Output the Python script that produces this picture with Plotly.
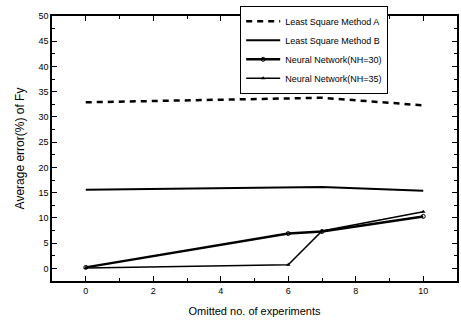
import plotly.graph_objects as go

omitted = [0, 6, 7, 10]
lsm_a = [32.9, 33.6, 33.8, 32.3]
lsm_b = [15.6, 16.0, 16.1, 15.4]
nn30 = [0.2, 6.9, 7.3, 10.3]
nn35 = [0.1, 0.7, 7.4, 11.2]

FONT = "Liberation Sans Narrow, Arial Narrow, Liberation Sans, Arial"

fig = go.Figure()
fig.add_trace(go.Scatter(x=omitted, y=lsm_a, mode="lines", name="Least Square Method A",
                         line=dict(color="black", width=2.5, dash="6px,5px")))
fig.add_trace(go.Scatter(x=omitted, y=lsm_b, mode="lines", name="Least Square Method B",
                         line=dict(color="black", width=2)))
fig.add_trace(go.Scatter(x=omitted, y=nn30, mode="lines+markers", name="Neural Network(NH=30)",
                         line=dict(color="black", width=2.5),
                         marker=dict(symbol="circle-open", size=4, color="black", line=dict(width=1))))
fig.add_trace(go.Scatter(x=omitted, y=nn35, mode="lines+markers", name="Neural Network(NH=35)",
                         line=dict(color="black", width=1.5),
                         marker=dict(symbol="triangle-up", size=4, color="black")))

axis_common = dict(showline=True, linecolor="black", linewidth=1.5, mirror="ticks",
                   ticks="inside", ticklen=5, tickcolor="black", tickwidth=1,
                   showgrid=False, zeroline=False, automargin=False,
                   tickfont=dict(family=FONT, size=9, color="black"))

fig.update_xaxes(range=[-1, 11], tickvals=[0, 2, 4, 6, 8, 10],
                 minor=dict(tickvals=[1, 3, 5, 7, 9], ticks="inside", ticklen=3, tickcolor="black"),
                 title=dict(text="Omitted no. of experiments", font=dict(family="Liberation Sans, Arial", size=11, color="black"), standoff=13),
                 **axis_common)
fig.update_yaxes(range=[-2.5, 50], tickvals=list(range(0, 51, 5)),
                 minor=dict(tickvals=[2.5 + 5 * i for i in range(10)], ticks="inside", ticklen=3, tickcolor="black"),
                 title=dict(text="Average error(%) of Fy", font=dict(family="Liberation Sans, Arial", size=12, color="black"), standoff=11),
                 **axis_common)

fig.update_layout(
    width=461, height=326,
    margin=dict(l=52, r=4, t=16, b=45, autoexpand=False),
    paper_bgcolor="white", plot_bgcolor="white",
    showlegend=True,
    legend=dict(xref="container", yref="container", x=0.521, y=0.982,
                xanchor="left", yanchor="top",
                bgcolor="white", bordercolor="black", borderwidth=1,
                font=dict(family=FONT, size=9, color="black"),
                tracegroupgap=0, itemwidth=34),
)

post = "document.body.style.margin='0';document.body.style.overflow='hidden';"

fig.write_html("out.html", post_script=post,
               config={"responsive": False, "displayModeBar": False})
